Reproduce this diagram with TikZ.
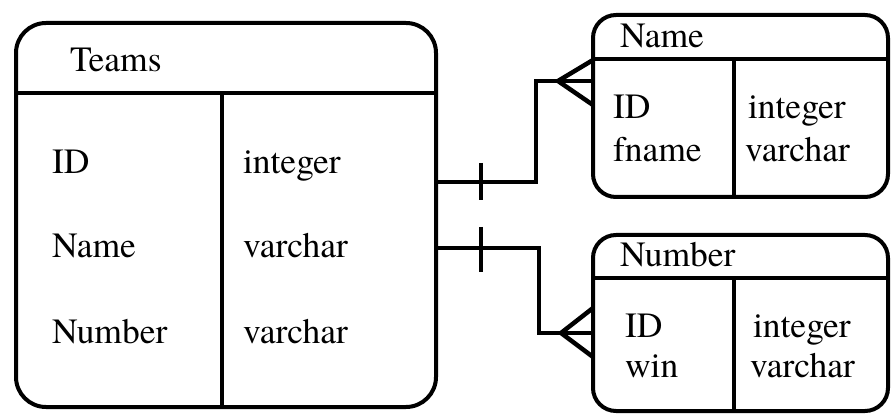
\documentclass[tikz,border=0pt]{standalone}
\usepackage{fontspec}
\IfFontExistsTF{texgyretermes-regular.otf}
  {\newfontfamily\labelface{texgyretermes-regular.otf}}
  {\IfFontExistsTF{TeX Gyre Termes}
    {\newfontfamily\labelface{TeX Gyre Termes}}
    {\newcommand\labelface{\rmfamily}}}
\usetikzlibrary{calc}
\tikzset{
  tbl/.style={draw, line width=4pt, rectangle, outer sep=0pt, inner sep=0pt},
  rule/.style={line width=4pt},
  link/.style={line width=4.5pt},
  txt/.style={anchor=base west, inner sep=0pt, outer sep=0pt, font=\labelface\fontsize{35.5}{40}\selectfont}
}
\begin{document}
\begin{tikzpicture}[x=1pt,y=-1pt]
\useasboundingbox (0,0) rectangle (892,414);

% entity boxes
\node[tbl, rounded corners=30pt, minimum width=420pt, minimum height=384pt] (teams) at (226,215) {};
\node[tbl, rounded corners=23pt, minimum width=295pt, minimum height=182pt] (name) at (740.5,106) {};
\node[tbl, rounded corners=23pt, minimum width=295pt, minimum height=176pt] (number) at (740.5,323) {};

% header rules and column dividers
\draw[rule] (teams.west |- 0,93) -- (teams.east |- 0,93);
\draw[rule] (teams.south -| 222,0) -- (222,93);
\draw[rule] (name.west |- 0,59) -- (name.east |- 0,59);
\draw[rule] (name.south -| 734,0) -- (734,59);
\draw[rule] (number.west |- 0,278) -- (number.east |- 0,278);
\draw[rule] (number.south -| 734,0) -- (734,278);

% Teams
\node[txt] (teamsTitle) at (70,72) {Teams};
\node[txt] (teamsId) at (52,174) {ID};
\node[txt] (teamsName) at (52,258) {Name};
\node[txt] (teamsNumber) at (52,343) {Number};
\node[txt] (teamsIdT) at (243,174) {integer};
\node[txt] (teamsNameT) at (243,258) {varchar};
\node[txt] (teamsNumberT) at (243,343) {varchar};

% Name
\node[txt] (nameTitle) at (620,48) {Name};
\node[txt] (nameId) at (613,119) {ID};
\node[txt] (nameF) at (613,162) {fname};
\node[txt] (nameIdT) at (748,119) {integer};
\node[txt] (nameFT) at (745,162) {varchar};

% Number
\node[txt] (numberTitle) at (620,266) {Number};
\node[txt] (numberId) at (625,337) {ID};
\node[txt] (numberWin) at (625,377) {win};
\node[txt] (numberIdT) at (753,337) {integer};
\node[txt] (numberWinT) at (750,377) {varchar};

% relationships
\coordinate (a1) at (teams.east |- 0,182);
\coordinate (b1) at (name.west |- 0,81);
\coordinate (a2) at (teams.east |- 0,248);
\coordinate (b2) at (number.west |- 0,333);

\draw[link] (a1) -- ++(100,0) |- (b1);
\draw[link] ($(a1)+(45,-19)$) -- ++(0,37);
\draw[link] ($(b1)+(0,-21)$) -- ($(b1)+(-35,0)$) -- ($(b1)+(0,24)$);

\draw[link] (a2) -- ++(103,0) |- (b2);
\draw[link] ($(a2)+(45,-21)$) -- ++(0,45);
\draw[link] ($(b2)+(0,-25)$) -- ($(b2)+(-32,0)$) -- ($(b2)+(0,24)$);
\end{tikzpicture}
\end{document}
